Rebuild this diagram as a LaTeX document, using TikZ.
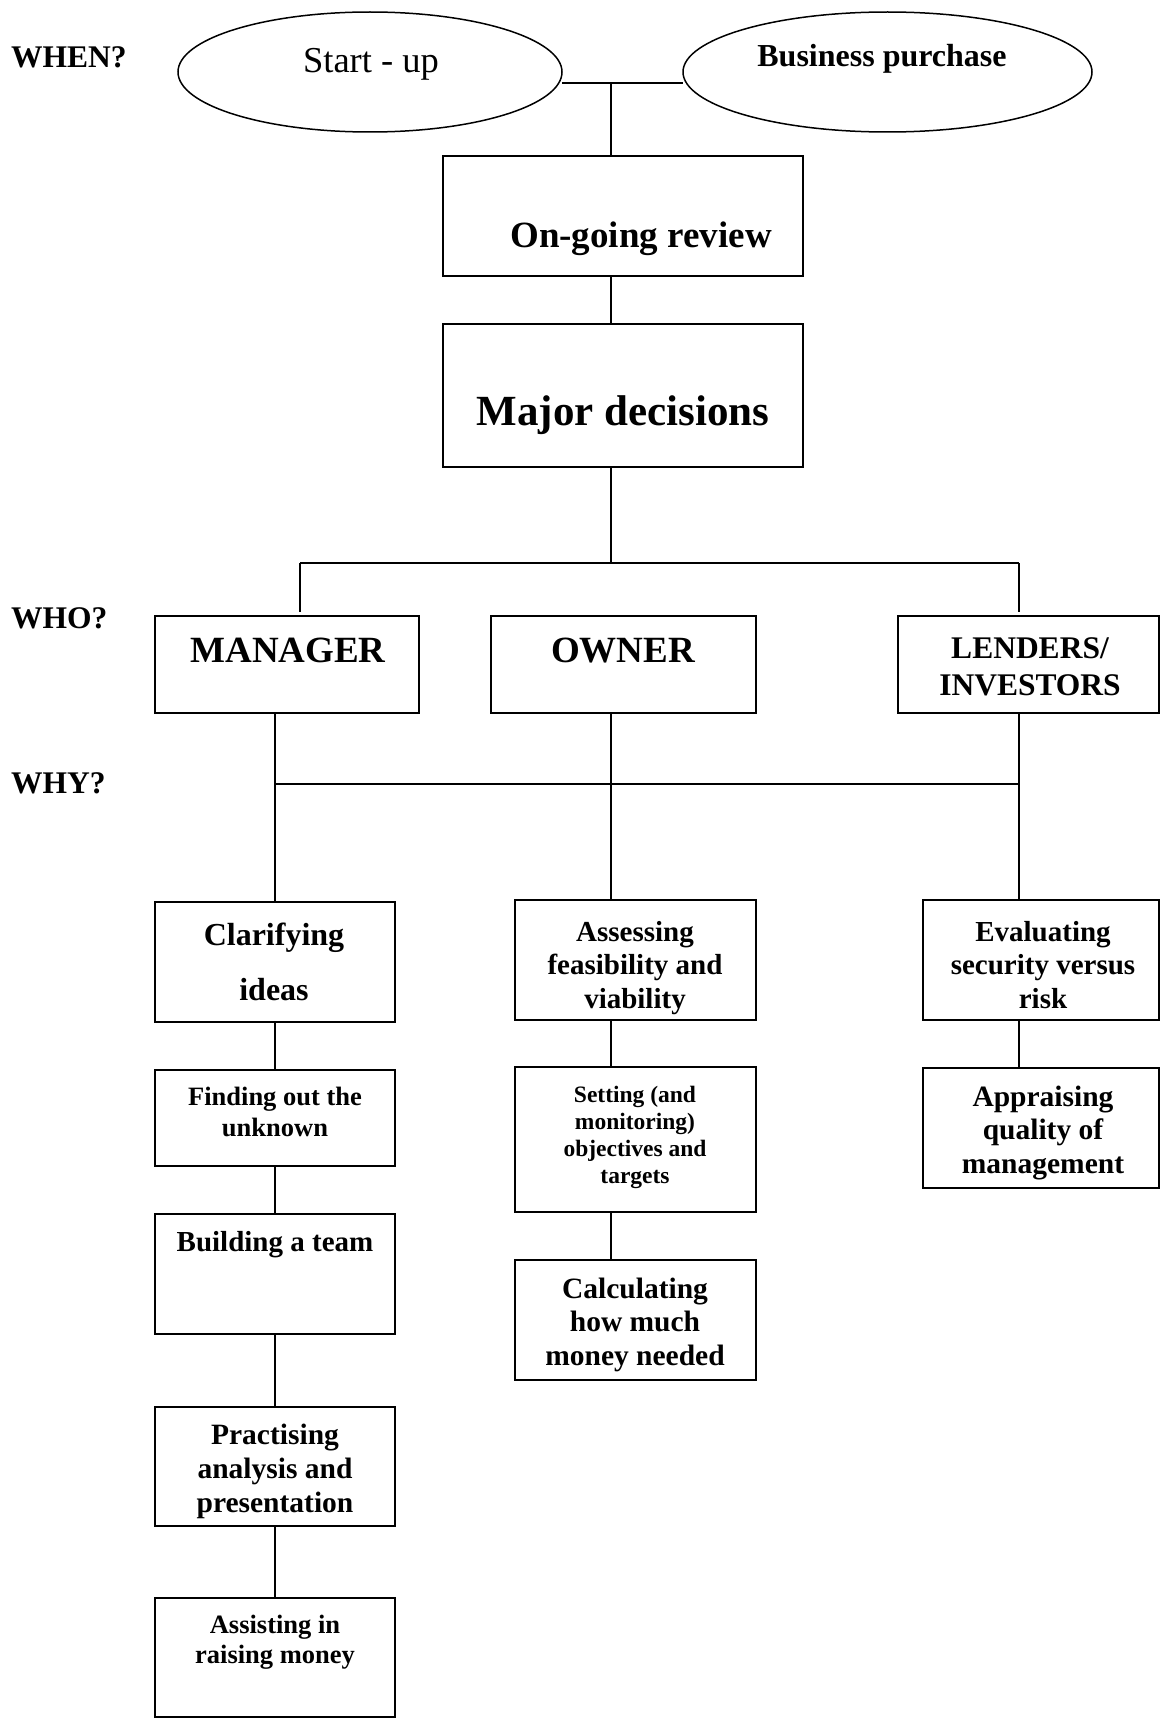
\documentclass[tikz,border=0pt]{standalone}
\usepackage{fontspec}
\setmainfont{Liberation Serif}
\usetikzlibrary{shapes.geometric}

% multi-line centred text whose reference point is the first baseline
\newcommand\mltext[3]{{\fontsize{#1}{#2}\selectfont\begin{tabular}[t]{@{}c@{}}#3\end{tabular}}}
% rectangle given by its top-left and bottom-right corners
\newcommand\mkbox[5]{\node[boxnode,anchor=north west,minimum width={#4-#2},minimum height={#5-#3}] (#1) at (#2,#3) {};}

\tikzset{
  boxnode/.style={draw, line width=1.5pt, inner sep=0pt, outer sep=0pt},
  oval/.style={draw, ellipse, line width=1.5pt, inner sep=0pt, outer sep=0pt},
  txt/.style={inner sep=0pt, anchor=base, font=\bfseries},
  side/.style={inner sep=0pt, anchor=base west, font=\bfseries\fontsize{31.5}{37}\selectfont},
  link/.style={line width=1.3pt},
  bar/.style={line width=1.8pt},
}

\begin{document}
\begin{tikzpicture}[x=1pt,y=-1pt]
\useasboundingbox (0,0) rectangle (1160,1718);
\clip (0,0) rectangle (1160,1718);

% side headings
\node[side] (when) at (11,68) {WHEN?};
\node[side] (who)  at (11,628) {WHO?};
\node[side] (why)  at (11,793) {WHY?};

% occasions
\node[oval, minimum width=384, minimum height=120] (startup) at (370,72) {};
\node[oval, minimum width=409, minimum height=120] (purchase) at (887.5,72) {};
\node[txt, font=\fontsize{36.5}{42}\selectfont] (tstartup) at (371,73) {Start - up};
\node[txt, font=\bfseries\fontsize{32}{37}\selectfont] (tpurchase) at (882,67) {Business purchase};

% review and decisions
\mkbox{review}{443}{156}{803}{276}
\node[txt, font=\bfseries\fontsize{37}{42}\selectfont] (treview) at (641,247) {On-going review};
\mkbox{major}{443}{324}{803}{467}
\node[txt, font=\bfseries\fontsize{43}{48}\selectfont] (tmajor) at (623,425) {Major decisions};

% parties
\mkbox{manager}{155}{616}{419}{713}
\mkbox{owner}{491}{616}{756}{713}
\mkbox{lenders}{898}{616}{1159}{713}
\node[txt, font=\bfseries\fontsize{37}{42}\selectfont] (tmanager) at (288,662) {MANAGER};
\node[txt, font=\bfseries\fontsize{37}{42}\selectfont] (towner) at (623,662) {OWNER};
\node[txt] (tlenders) at (1030,658) {\mltext{31.5}{37}{LENDERS/\\INVESTORS}};

% manager column
\mkbox{clarify}{155}{902}{395}{1022}
\node[txt] (tclarify) at (274,945) {\mltext{32}{55}{Clarifying\\ideas}};
\mkbox{finding}{155}{1070}{395}{1166}
\node[txt] (tfinding) at (275,1105) {\mltext{26.5}{31}{Finding out the\\unknown}};
\mkbox{team}{155}{1214}{395}{1334}
\node[txt] (tteam) at (275,1251) {\mltext{29}{34}{Building a team}};
\mkbox{practise}{155}{1407}{395}{1526}
\node[txt] (tpractise) at (275,1444) {\mltext{29.5}{34}{Practising\\analysis and\\presentation}};
\mkbox{assist}{155}{1598}{395}{1717}
\node[txt] (tassist) at (275,1633) {\mltext{26.5}{30}{Assisting in\\raising money}};

% owner column
\mkbox{assess}{515}{900}{756}{1020}
\node[txt] (tassess) at (635,941) {\mltext{29}{33.5}{Assessing\\feasibility and\\viability}};
\mkbox{setting}{515}{1067}{756}{1212}
\node[txt] (tsetting) at (635,1102) {\mltext{23.5}{27}{Setting (and\\monitoring)\\objectives and\\targets}};
\mkbox{calc}{515}{1260}{756}{1380}
\node[txt] (tcalc) at (635,1298) {\mltext{29.5}{33.5}{Calculating\\how much\\money needed}};

% lenders column
\mkbox{evaluate}{923}{900}{1159}{1020}
\node[txt] (tevaluate) at (1043,941) {\mltext{29}{33.5}{Evaluating\\security versus\\risk}};
\mkbox{appraise}{923}{1068}{1159}{1188}
\node[txt] (tappraise) at (1043,1106) {\mltext{29.5}{33.5}{Appraising\\quality of\\management}};

% junction points
\coordinate (jtop) at (611,83);
\coordinate (jsplit) at (611,563);
\coordinate (jl) at (300,563);
\coordinate (jr) at (1019,563);
\coordinate (cm) at (275,784);
\coordinate (co) at (611,784);
\coordinate (cl) at (1019,784);

% connectors
\draw[bar] (startup.east |- jtop) -- (purchase.west |- jtop);
\draw[link] (jtop) -- (jtop |- review.north);
\draw[link] (jtop |- review.south) -- (jtop |- major.north);
\draw[link] (jtop |- major.south) -- (jsplit);
\draw[bar] (jl) -- (jr);
\draw[link] (jl) -- ([yshift=4pt]jl |- manager.north);
\draw[link] (jr) -- ([yshift=4pt]jr |- lenders.north);

\draw[link] (cm |- manager.south) -- (cm |- clarify.north);
\draw[link] (co |- owner.south) -- (co |- assess.north);
\draw[link] (cl |- lenders.south) -- (cl |- evaluate.north);
\draw[bar] (cm) -- (cl);

\draw[link] (cm |- clarify.south) -- (cm |- finding.north);
\draw[link] (cm |- finding.south) -- (cm |- team.north);
\draw[link] (cm |- team.south) -- (cm |- practise.north);
\draw[link] (cm |- practise.south) -- (cm |- assist.north);

\draw[link] (co |- assess.south) -- (co |- setting.north);
\draw[link] (co |- setting.south) -- (co |- calc.north);

\draw[link] (cl |- evaluate.south) -- (cl |- appraise.north);
\end{tikzpicture}
\end{document}
